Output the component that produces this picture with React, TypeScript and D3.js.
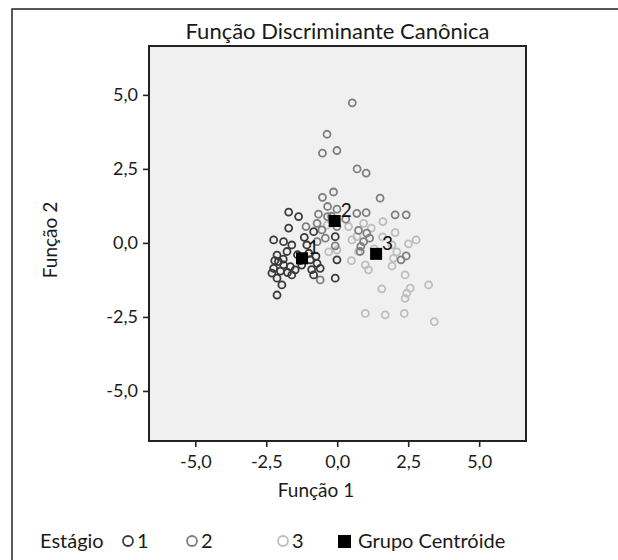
import React, { useRef, useEffect } from 'react';
import * as d3 from 'd3';

// Values (Função 1, Função 2)
const grupo1: [number, number][] = [
  [-1.71, 1.04], [-1.36, 0.89], [-1.71, 0.5], [-2.24, 0.1], [-1.89, 0.04], [-1.6, -0.07],
  [-1.16, 0.19], [-1.07, -0.07], [-1.77, -0.29], [-2.12, -0.41], [-2.07, -0.63], [-1.89, -0.74],
  [-2.24, -0.86], [-2.3, -1.02], [-2.12, -1.19], [-1.95, -1.42], [-2.12, -1.76], [-1.65, -0.8],
  [-1.48, -0.91], [-1.6, -1.08], [-0.95, -0.57], [-0.71, -0.69], [-0.6, -0.86], [-0.83, -1.08],
  [-1.3, -0.6], [-1.4, -0.4], [-2.0, -0.95], [-1.75, -1.0], [-0.75, -0.45], [-1.0, -0.35],
  [-0.9, -0.9], [-1.25, -0.75], [-2.2, -0.6], [-1.9, -0.55], [-0.01, -0.57], [-0.07, -1.19],
  [-0.07, 0.21], [-0.83, 0.38],
];
const grupo2: [number, number][] = [
  [0.53, 4.73], [-0.36, 3.67], [-0.52, 3.03], [-0.01, 3.12], [0.7, 2.5], [1.02, 2.36],
  [-0.13, 1.72], [-0.52, 1.54], [-0.34, 1.23], [-0.01, 1.14], [-0.66, 0.97], [-0.34, 0.89],
  [0.69, 1.0], [1.02, 1.02], [-0.71, 0.66], [-0.54, 0.44], [-0.01, 0.55], [-0.42, 0.16],
  [-0.71, 0.04], [0.75, 0.42], [1.04, 0.33], [1.14, 0.16], [0.93, 0.04], [0.83, -0.12],
  [0.81, -0.29], [1.51, 1.51], [2.04, 0.95], [2.43, 0.95], [2.25, -0.57], [2.43, -0.44],
  [-0.6, -1.25], [-1.1, 0.55], [-0.2, 0.9], [0.3, 0.8], [-0.07, -0.1],
];
const grupo3: [number, number][] = [
  [0.4, 0.55], [0.69, 0.21], [-0.01, -0.24], [0.75, -0.29], [1.61, 0.72], [0.93, 0.66],
  [2.04, 0.35], [0.52, 0.1], [2.51, -0.03], [2.78, 0.1], [1.93, -0.07], [1.98, -0.52],
  [1.93, -0.78], [0.99, -0.74], [1.1, -0.91], [2.39, -1.08], [1.57, -1.55], [2.57, -1.53],
  [2.45, -1.7], [2.39, -1.87], [3.22, -1.42], [0.99, -2.38], [1.69, -2.43], [2.36, -2.38],
  [3.42, -2.66], [1.6, 0.2], [1.3, -0.2], [0.5, -0.6], [2.1, -0.3], [1.2, 0.5],
  [-0.3, -0.3], [-0.35, 0.6],
];
const centroides: [number, number][] = [[-1.24, -0.52], [-0.09, 0.74], [1.37, -0.37]];
const centroideLabels = ['1', '2', '3'];
const ticks = [-5, -2.5, 0, 2.5, 5];
const grupoCores = ['#3a3a3a', '#7e7e7e', '#bdbdbd'];

const W = 618;
const H = 560;
const FONT = 'Lato, "Open Sans", sans-serif';

export default function App() {
  const svgRef = useRef(null);

  useEffect(() => {
    const svg = d3.select(svgRef.current);
    svg.selectAll('*').remove();

    const left = 149, right = 526, top = 46, bottom = 441;
    const xScale = d3.scaleLinear().domain([-6.63, 6.65]).range([left, right]);
    const yScale = d3.scaleLinear().domain([-6.69, 6.65]).range([bottom, top]);
    // comma decimal, plain hyphen for the minus
    const fmt = (d) => d.toFixed(1).replace('.', ',');

    // outer frame
    svg.append('rect').attr('x', 12).attr('y', 9).attr('width', W).attr('height', H)
      .attr('fill', 'white').attr('stroke', '#222').attr('stroke-width', 1.5);

    svg.append('text').attr('x', (left + right) / 2).attr('y', 39)
      .attr('text-anchor', 'middle').attr('font-size', 22).attr('fill', '#1a1a1a')
      .text('Função Discriminante Canônica');

    svg.append('rect').attr('x', left).attr('y', top)
      .attr('width', right - left).attr('height', bottom - top)
      .attr('fill', '#f0f0f0');

    // axes
    const xAxis = d3.axisBottom(xScale).tickValues(ticks).tickFormat(fmt).tickSize(6).tickSizeOuter(0);
    const gx = svg.append('g').attr('transform', `translate(0,${bottom})`).call(xAxis);
    gx.select('.domain').remove();
    gx.selectAll('line').attr('stroke', '#222').attr('stroke-width', 1.6);
    gx.selectAll('text').attr('font-size', 18).attr('font-family', FONT).attr('fill', '#1a1a1a')
      .attr('y', 14).attr('dy', '0.71em');

    const yAxis = d3.axisLeft(yScale).tickValues(ticks).tickFormat(fmt).tickSize(6).tickSizeOuter(0);
    const gy = svg.append('g').attr('transform', `translate(${left},0)`).call(yAxis);
    gy.select('.domain').remove();
    gy.selectAll('line').attr('stroke', '#222').attr('stroke-width', 1.6);
    gy.selectAll('text').attr('font-size', 18).attr('font-family', FONT).attr('fill', '#1a1a1a').attr('x', -11);

    svg.append('rect').attr('x', left).attr('y', top)
      .attr('width', right - left).attr('height', bottom - top)
      .attr('fill', 'none').attr('stroke', '#222').attr('stroke-width', 2);

    svg.append('text').attr('x', 316).attr('y', 497).attr('text-anchor', 'middle')
      .attr('font-size', 19).attr('fill', '#1a1a1a').text('Função 1');
    svg.append('text').attr('transform', 'translate(57,240) rotate(-90)').attr('text-anchor', 'middle')
      .attr('font-size', 19).attr('fill', '#1a1a1a').text('Função 2');

    // points (drawn light group first so darker ones are on top)
    const groups = [grupo1, grupo2, grupo3];
    [2, 1, 0].forEach((gi) => {
      svg.append('g').selectAll('circle').data(groups[gi]).join('circle')
        .attr('cx', (d) => xScale(d[0])).attr('cy', (d) => yScale(d[1]))
        .attr('r', 3.5).attr('fill', 'none')
        .attr('stroke', grupoCores[gi]).attr('stroke-width', 1.8);
    });

    // centroids
    const cg = svg.append('g');
    cg.selectAll('rect').data(centroides).join('rect')
      .attr('x', (d) => xScale(d[0]) - 6).attr('y', (d) => yScale(d[1]) - 6)
      .attr('width', 12).attr('height', 12).attr('fill', '#000');
    cg.selectAll('text').data(centroides).join('text')
      .attr('x', (d) => xScale(d[0]) + 6).attr('y', (d) => yScale(d[1]) - 4)
      .attr('font-size', 19).attr('fill', '#111')
      .text((d, i) => centroideLabels[i]);

    // legend
    const ly = 541;
    svg.append('text').attr('x', 40).attr('y', ly + 7).attr('font-size', 20).attr('fill', '#1a1a1a').text('Estágio');
    const legX = [128, 192, 283];
    centroideLabels.forEach((lab, i) => {
      svg.append('circle').attr('cx', legX[i]).attr('cy', ly).attr('r', 5)
        .attr('fill', 'none').attr('stroke', grupoCores[i]).attr('stroke-width', 1.8);
      svg.append('text').attr('x', legX[i] + 9).attr('y', ly + 7).attr('font-size', 20).attr('fill', '#1a1a1a').text(lab);
    });
    svg.append('rect').attr('x', 338).attr('y', ly - 6).attr('width', 13).attr('height', 13).attr('fill', '#000');
    svg.append('text').attr('x', 358).attr('y', ly + 7).attr('font-size', 20).attr('fill', '#1a1a1a').text('Grupo Centróide');
  }, []);

  return (
    <svg ref={svgRef} width={W} height={H}
      style={{ position: 'absolute', left: 0, top: 0, fontFamily: FONT }} />
  );
}
